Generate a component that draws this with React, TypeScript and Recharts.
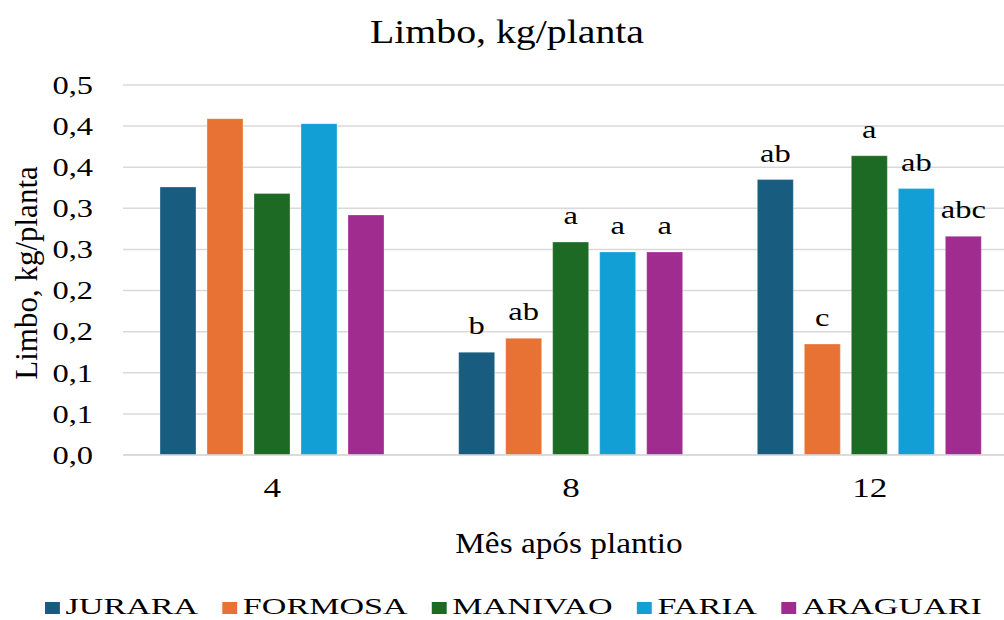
import React from 'react';
import { BarChart, Bar, XAxis, YAxis, CartesianGrid, LabelList } from 'recharts';

const SERIF = "'Liberation Serif', 'DejaVu Serif', Tinos, 'Times New Roman', serif";

const months = ['4', '8', '12'];

const jurara = [0.326, 0.125, 0.335];
const formosa = [0.409, 0.142, 0.135];
const manivao = [0.318, 0.259, 0.364];
const faria = [0.403, 0.247, 0.324];
const araguari = [0.292, 0.247, 0.266];

// letras de significância acima das barras
const juraraLetters = ['', 'b', 'ab'];
const formosaLetters = ['', 'ab', 'c'];
const manivaoLetters = ['', 'a', 'a'];
const fariaLetters = ['', 'a', 'ab'];
const araguariLetters = ['', 'a', 'abc'];

const yTicks = [0, 0.05, 0.1, 0.15, 0.2, 0.25, 0.3, 0.35, 0.4, 0.45];
const yTickLabels = ['0,0', '0,1', '0,1', '0,2', '0,2', '0,3', '0,3', '0,4', '0,4', '0,5'];

const SERIES = [
  { key: 'JURARA', values: jurara, letters: juraraLetters, color: '#185d7f' },
  { key: 'FORMOSA', values: formosa, letters: formosaLetters, color: '#e87233' },
  { key: 'MANIVAO', values: manivao, letters: manivaoLetters, color: '#1c6a24' },
  { key: 'FARIA', values: faria, letters: fariaLetters, color: '#119fd6' },
  { key: 'ARAGUARI', values: araguari, letters: araguariLetters, color: '#a02c90' },
];

const data = months.map((m, i) => {
  const row: Record<string, string | number> = { month: m };
  SERIES.forEach(s => {
    row[s.key] = s.values[i];
    row[s.key + '_l'] = s.letters[i];
  });
  return row;
});

// largura do texto na fonte da legenda
const measure = (txt: string, size: number) => {
  const ctx = document.createElement('canvas').getContext('2d');
  if (!ctx) return txt.length * size * 0.65;
  ctx.font = `${size}px ${SERIF}`;
  return ctx.measureText(txt).width;
};

const YTick = (props: any) => {
  const { x, y, payload } = props;
  const idx = yTicks.indexOf(payload.value);
  const label = idx >= 0 ? yTickLabels[idx] : String(payload.value);
  return (
    <text transform={`translate(${x},${y}) scale(1.3,1)`} textAnchor="end" dy="0.35em"
      fontSize={25} style={{ fontFamily: SERIF }} fill="#000">
      {label}
    </text>
  );
};

const XTick = (props: any) => {
  const { x, y, payload } = props;
  return (
    <text transform={`translate(${x},${y}) scale(1.3,1)`} textAnchor="middle"
      fontSize={27} style={{ fontFamily: SERIF }} fill="#000">
      {payload.value}
    </text>
  );
};

const Letter = (props: any) => {
  const { x, y, width, value } = props;
  if (!value) return null;
  return (
    <text transform={`translate(${x + width / 2},${y - 18}) scale(1.3,1)`} textAnchor="middle"
      fontSize={25} style={{ fontFamily: SERIF }} fill="#000">
      {value}
    </text>
  );
};

const LegendRow = () => {
  let cx = 0;
  const items = SERIES.map((s, i) => {
    if (i > 0) cx += 17;
    const start = cx;
    const w = measure(s.key, 24);
    cx += 10.5 + 4 + w;
    return (
      <g key={s.key}>
        <rect x={start} y={602} width={10.5} height={12} fill={s.color} />
        <text x={start + 14.5} y={614} fontSize={24} fill="#000">{s.key}</text>
      </g>
    );
  });
  return <g transform="translate(45,0) scale(1.42,1)">{items}</g>;
};

const App: React.FC = () => {
  return (
    <div style={{ position: 'fixed', left: 0, top: 0, width: 1004, height: 620, overflow: 'hidden', background: '#fff', fontFamily: SERIF }}>
      <BarChart
        width={1040}
        height={620}
        data={data}
        margin={{ top: 85, right: 21, bottom: 125, left: 53 }}
        barCategoryGap={37}
        barGap={11}
      >
        <CartesianGrid vertical={false} stroke="#d9d9d9" strokeWidth={1.5} />
        <XAxis
          dataKey="month"
          height={40}
          tickSize={0}
          tickMargin={42}
          tick={<XTick />}
          axisLine={{ stroke: '#d9d9d9', strokeWidth: 1.5 }}
          tickLine={false}
        />
        <YAxis
          width={70}
          domain={[0, 0.45]}
          ticks={yTicks}
          tickSize={0}
          tickMargin={30}
          tick={<YTick />}
          axisLine={false}
          tickLine={false}
        />
        {SERIES.map(s => (
          <Bar key={s.key} dataKey={s.key} fill={s.color} stroke="#ffffff" strokeOpacity={0.3} strokeWidth={1} isAnimationActive={false}>
            <LabelList dataKey={s.key + '_l'} content={<Letter />} />
          </Bar>
        ))}
      </BarChart>

      <svg width={1004} height={620} style={{ position: 'absolute', left: 0, top: 0, pointerEvents: 'none', fontFamily: SERIF }}>
        <text transform="translate(507,43) scale(1.17,1)" textAnchor="middle" fontSize={34} fill="#000">
          Limbo, kg/planta
        </text>
        <text transform="translate(569,553) scale(1.11,1)" textAnchor="middle" fontSize={30} fill="#000">
          Mês após plantio
        </text>
        <text transform="translate(37,273) rotate(-90)" textAnchor="middle" fontSize={31} fill="#000">
          Limbo, kg/planta
        </text>
        <LegendRow />
      </svg>
    </div>
  );
};

export default App;
